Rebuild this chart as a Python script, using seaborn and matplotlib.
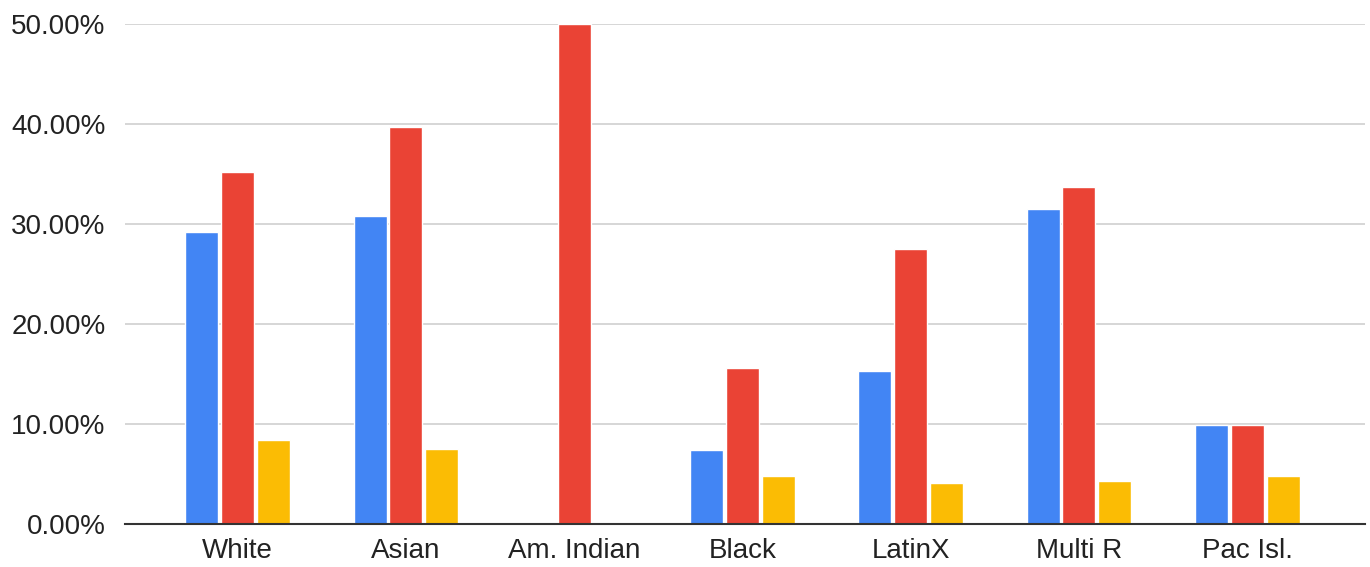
import matplotlib
matplotlib.use("Agg")
import matplotlib.pyplot as plt
from matplotlib.ticker import FuncFormatter, MultipleLocator
import pandas as pd
import seaborn as sns

# Rates by group, in percent, for three series
groups = ["White", "Asian", "Am. Indian", "Black", "LatinX", "Multi R", "Pac Isl."]
series_names = ["Series A", "Series B", "Series C"]
series_a = [29.2, 30.8, 0.0, 7.4, 15.3, 31.5, 9.9]
series_b = [35.2, 39.7, 50.0, 15.6, 27.5, 33.7, 9.9]
series_c = [8.4, 7.5, 0.0, 4.8, 4.1, 4.3, 4.8]
palette = ["#4285F4", "#EA4335", "#FBBC04"]

df = pd.DataFrame({
    "group": groups * 3,
    "series": [s for s in series_names for _ in groups],
    "value": series_a + series_b + series_c,
})

sns.set_theme(style="white")
plt.rcParams["font.family"] = ["Liberation Sans", "DejaVu Sans"]

fig = plt.figure(figsize=(13.7, 5.67), dpi=100)
ax = fig.add_axes([125 / 1370, 43 / 567, 1240 / 1370, 500 / 567])

sns.barplot(data=df, x="group", y="value", hue="series", order=groups,
            hue_order=series_names, palette=palette, width=0.64, gap=0.08,
            saturation=1, legend=False, ax=ax, zorder=3)

ax.set_xlim(-0.67, 6.70)
ax.set_ylim(0, 50)
ax.yaxis.set_major_locator(MultipleLocator(10))
ax.yaxis.set_major_formatter(FuncFormatter(lambda v, _: f"{v:.2f}%"))
ax.grid(axis="y", color="#cccccc", linewidth=1.1, zorder=0)
ax.grid(axis="x", visible=False)
ax.set_xlabel("")
ax.set_ylabel("")

for side in ["top", "right", "left"]:
    ax.spines[side].set_visible(False)
ax.spines["bottom"].set_color("#333333")
ax.spines["bottom"].set_linewidth(1.5)
ax.spines["bottom"].set_zorder(4)

ax.tick_params(axis="y", length=0, pad=14, labelsize=20, labelcolor="#222222")
ax.tick_params(axis="x", length=0, pad=10, labelsize=20, labelcolor="#222222")

fig.savefig("out.png", dpi=100, facecolor="white")
